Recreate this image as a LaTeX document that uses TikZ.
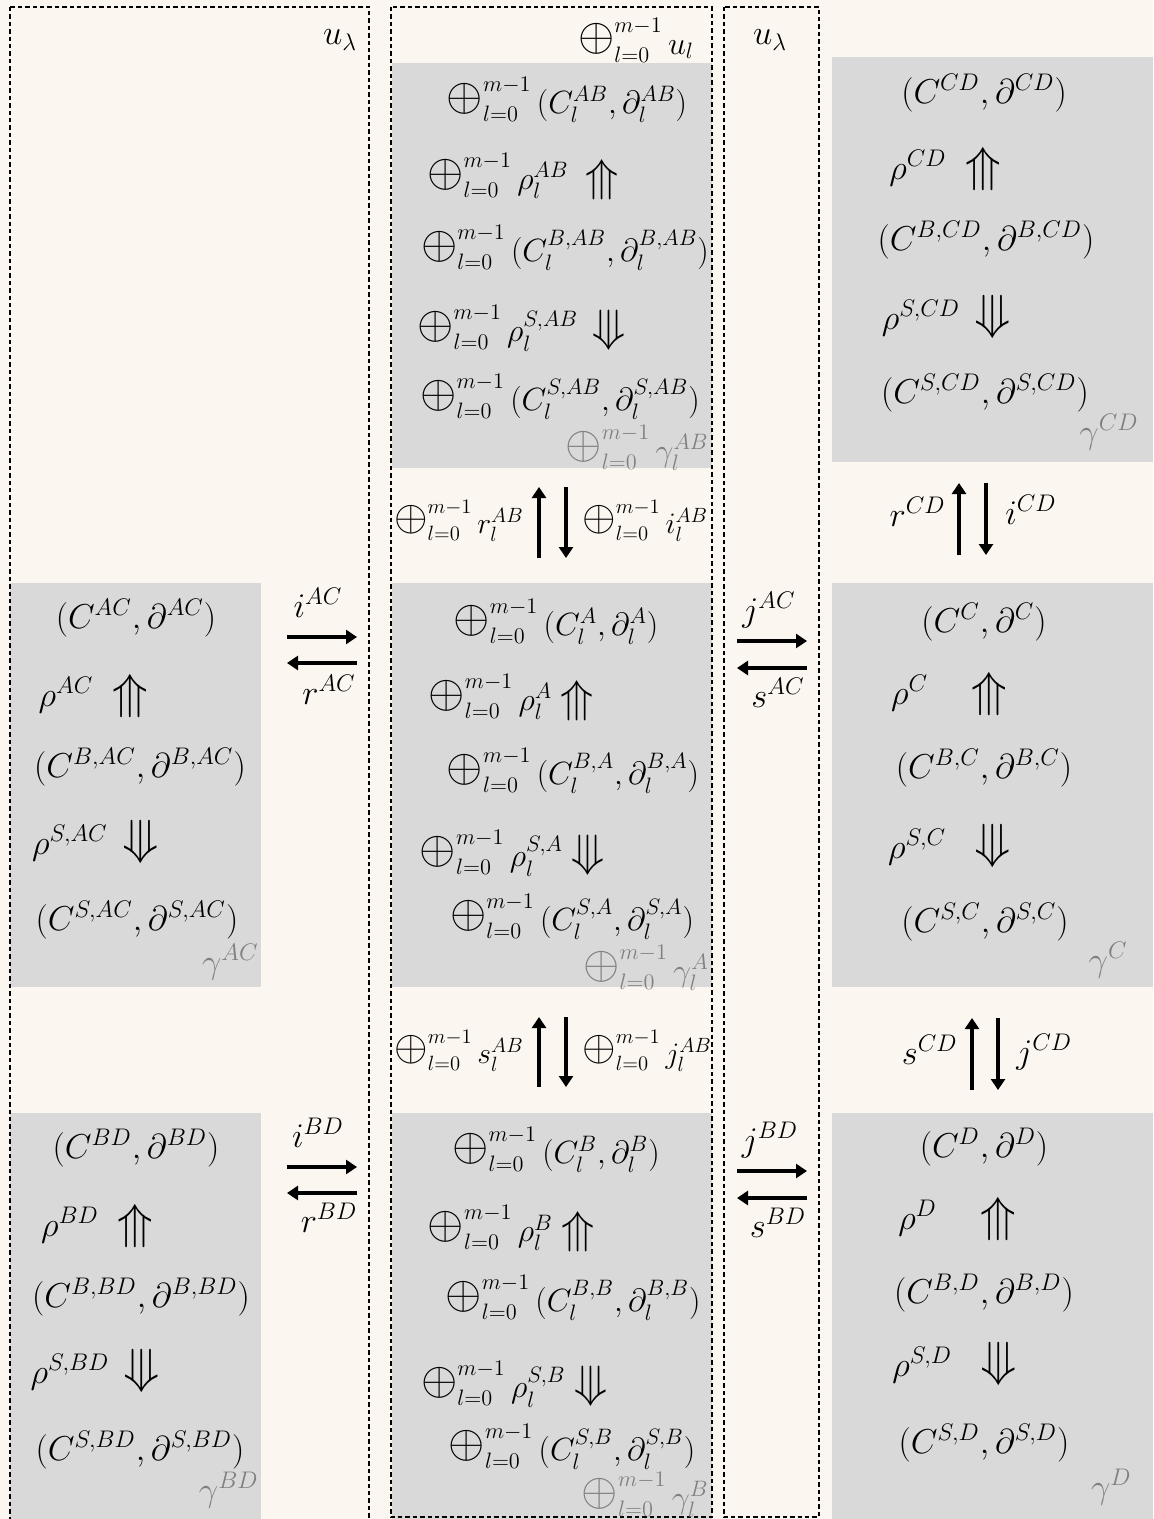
\documentclass[tikz,border=0pt]{standalone}
\usepackage{amssymb}
\usepackage{graphicx}
\usetikzlibrary{arrows.meta}
\definecolor{bgcream}{HTML}{FBF7F0}
\definecolor{boxgray}{HTML}{D9D9D9}
\definecolor{lblgray}{HTML}{808080}
\newcommand\Osum{{\raisebox{0.1em}{\scalebox{1.45}{$\oplus$}}}_{l=0}^{m-1}\,}
\newcommand\Mx[1]{\scalebox{0.93}{$#1$}}
\newcommand\tup{\mathrel{\rotatebox[origin=c]{90}{\scalebox{1.45}[1.3]{$\Rrightarrow$}}}}
\newcommand\tdown{\mathrel{\rotatebox[origin=c]{-90}{\scalebox{1.45}[1.3]{$\Rrightarrow$}}}}
\tikzset{
  lbl/.style={inner sep=0pt, font=\fontsize{17.28}{21}\selectfont},
  glbl/.style={lbl, text=lblgray, anchor=east},
  grayblock/.style={fill=boxgray, draw=none},
  dashbox/.style={draw=black, line width=0.65pt, dash pattern=on 2.2pt off 1.5pt},
  bigarrow/.style={line width=2pt, -{Triangle[length=5.5pt,width=7pt]}},
}
\begin{document}
\begin{tikzpicture}[x=0.5pt,y=-0.5pt]
\useasboundingbox (0,0) rectangle (1153,1519);
\fill[bgcream] (0,0) rectangle (1153,1519);
% gray blocks
\fill[grayblock] (10,583) rectangle (261,987);
\fill[grayblock] (10,1113) rectangle (261,1519);
\fill[grayblock] (392,63) rectangle (712,468);
\fill[grayblock] (392,583) rectangle (712,987);
\fill[grayblock] (392,1113) rectangle (712,1519);
\fill[grayblock] (832,57) rectangle (1153,462);
\fill[grayblock] (832,583) rectangle (1153,987);
\fill[grayblock] (832,1113) rectangle (1153,1519);
% dashed frames
\begin{scope}
\clip (0,0) rectangle (1153,1519);
\draw[dashbox] (10,7) rectangle (369,1530);
\end{scope}
\draw[dashbox] (391,7) rectangle (712,1517);
\draw[dashbox] (724,7) rectangle (819,1517);
% top labels
\node[lbl] (ulamL) at (340,40) {$u_\lambda$};
\node[lbl] (ulsum) at (636,40) {\Mx{\Osum u_l}};
\node[lbl] (ulamR) at (770,40) {$u_\lambda$};
% AB block
\node[lbl] (ab1) at (567,100) {\Mx{\Osum (C_l^{AB},\partial_l^{AB})}};
\node[lbl] (ab2) at (523,178) {\Mx{\Osum \rho_l^{AB}\;\tup}};
\node[lbl] (ab3) at (565,248) {\Mx{\Osum (C_l^{B,AB},\partial_l^{B,AB})}};
\node[lbl] (ab4) at (521,330) {\Mx{\Osum \rho_l^{S,AB}\,\tdown}};
\node[lbl] (ab5) at (560,397) {\Mx{\Osum (C_l^{S,AB},\partial_l^{S,AB})}};
\node[glbl] (gab) at (709,448) {\Mx{\Osum \gamma_l^{AB}}};
% A block
\node[lbl] (a1) at (556,622) {\Mx{\Osum (C_l^{A},\partial_l^{A})}};
\node[lbl] (a2) at (511,699) {\Mx{\Osum \rho_l^{A}\tup}};
\node[lbl] (a3) at (573,771) {\Mx{\Osum (C_l^{B,A},\partial_l^{B,A})}};
\node[lbl] (a4) at (512,855) {\Mx{\Osum \rho_l^{S,A}\tdown}};
\node[lbl] (a5) at (572,917) {\Mx{\Osum (C_l^{S,A},\partial_l^{S,A})}};
\node[glbl] (ga) at (709,968) {\Mx{\Osum \gamma_l^{A}}};
% B block
\node[lbl] (b1) at (556,1150) {\Mx{\Osum (C_l^{B},\partial_l^{B})}};
\node[lbl] (b2) at (511,1230) {\Mx{\Osum \rho_l^{B}\tup}};
\node[lbl] (b3) at (573,1298) {\Mx{\Osum (C_l^{B,B},\partial_l^{B,B})}};
\node[lbl] (b4) at (514,1386) {\Mx{\Osum \rho_l^{S,B}\tdown}};
\node[lbl] (b5) at (572,1447) {\Mx{\Osum (C_l^{S,B},\partial_l^{S,B})}};
\node[glbl] (gb) at (709,1495) {\Mx{\Osum \gamma_l^{B}}};
% AC block
\node[lbl] (ac1) at (136,618) {$(C^{AC},\partial^{AC})$};
\node[lbl] (ac2) at (93,695) {$\rho^{AC}\;\tup$};
\node[lbl] (ac3) at (140,767) {$(C^{B,AC},\partial^{B,AC})$};
\node[lbl] (ac4) at (95,843) {$\rho^{S,AC}\,\tdown$};
\node[lbl] (ac5) at (137,920) {$(C^{S,AC},\partial^{S,AC})$};
\node[glbl] (gac) at (259,962) {$\gamma^{AC}$};
% BD block
\node[lbl] (bd1) at (136,1148) {$(C^{BD},\partial^{BD})$};
\node[lbl] (bd2) at (97,1225) {$\rho^{BD}\;\tup$};
\node[lbl] (bd3) at (141,1297) {$(C^{B,BD},\partial^{B,BD})$};
\node[lbl] (bd4) at (95,1372) {$\rho^{S,BD}\,\tdown$};
\node[lbl] (bd5) at (140,1450) {$(C^{S,BD},\partial^{S,BD})$};
\node[glbl] (gbd) at (259,1490) {$\gamma^{BD}$};
% CD block
\node[lbl] (cd1) at (984,93) {$(C^{CD},\partial^{CD})$};
\node[lbl] (cd2) at (945,168) {$\rho^{CD}\;\tup$};
\node[lbl] (cd3) at (986,240) {$(C^{B,CD},\partial^{B,CD})$};
\node[lbl] (cd4) at (946,318) {$\rho^{S,CD}\,\tdown$};
\node[lbl] (cd5) at (985,393) {$(C^{S,CD},\partial^{S,CD})$};
\node[glbl] (gcd) at (1139,432) {$\gamma^{CD}$};
% C block
\node[lbl] (c1) at (984,622) {$(C^{C},\partial^{C})$};
\node[lbl] (c2) at (949,693) {$\rho^{C}\quad\tup$};
\node[lbl] (c3) at (984,768) {$(C^{B,C},\partial^{B,C})$};
\node[lbl] (c4) at (949,847) {$\rho^{S,C}\;\;\tdown$};
\node[lbl] (c5) at (985,922) {$(C^{S,C},\partial^{S,C})$};
\node[glbl] (gc) at (1128,960) {$\gamma^{C}$};
% D block
\node[lbl] (d1) at (984,1147) {$(C^{D},\partial^{D})$};
\node[lbl] (d2) at (957,1218) {$\rho^{D}\quad\tup$};
\node[lbl] (d3) at (984,1293) {$(C^{B,D},\partial^{B,D})$};
\node[lbl] (d4) at (954,1365) {$\rho^{S,D}\;\;\tdown$};
\node[lbl] (d5) at (984,1443) {$(C^{S,D},\partial^{S,D})$};
\node[glbl] (gd) at (1132,1487) {$\gamma^{D}$};
% horizontal arrows left
\coordinate (acL1) at (287,637); \coordinate (acR1) at (357,637);
\coordinate (acL2) at (287,663); \coordinate (acR2) at (357,663);
\draw[bigarrow] (acL1) -- (acR1);
\draw[bigarrow] (acR2) -- (acL2);
\node[lbl] (iAC) at (318,603) {$i^{AC}$};
\node[lbl] (rAC) at (329,690) {$r^{AC}$};
\coordinate (bdL1) at (287,1167); \coordinate (bdR1) at (357,1167);
\coordinate (bdL2) at (287,1193); \coordinate (bdR2) at (357,1193);
\draw[bigarrow] (bdL1) -- (bdR1);
\draw[bigarrow] (bdR2) -- (bdL2);
\node[lbl] (iBD) at (318,1133) {$i^{BD}$};
\node[lbl] (rBD) at (329,1218) {$r^{BD}$};
% horizontal arrows right
\coordinate (jacL1) at (737,641); \coordinate (jacR1) at (807,641);
\coordinate (jacL2) at (737,668); \coordinate (jacR2) at (807,668);
\draw[bigarrow] (jacL1) -- (jacR1);
\draw[bigarrow] (jacR2) -- (jacL2);
\node[lbl] (jAC) at (769,610) {$j^{AC}$};
\node[lbl] (sAC) at (778,693) {$s^{AC}$};
\coordinate (jbdL1) at (737,1171); \coordinate (jbdR1) at (807,1171);
\coordinate (jbdL2) at (737,1198); \coordinate (jbdR2) at (807,1198);
\draw[bigarrow] (jbdL1) -- (jbdR1);
\draw[bigarrow] (jbdR2) -- (jbdL2);
\node[lbl] (jBD) at (770,1140) {$j^{BD}$};
\node[lbl] (sBD) at (778,1223) {$s^{BD}$};
% vertical arrows middle
\coordinate (m1b) at (539,558); \coordinate (m1t) at (539,487);
\coordinate (m2t) at (566,487); \coordinate (m2b) at (566,558);
\draw[bigarrow] (m1b) -- (m1t);
\draw[bigarrow] (m2t) -- (m2b);
\node[lbl, anchor=east] (rAB) at (524,521) {\scalebox{0.86}{$\Osum r_l^{AB}$}};
\node[lbl, anchor=west] (iAB) at (582,521) {\scalebox{0.86}{$\Osum i_l^{AB}$}};
\coordinate (m3b) at (539,1087); \coordinate (m3t) at (539,1017);
\coordinate (m4t) at (566,1017); \coordinate (m4b) at (566,1087);
\draw[bigarrow] (m3b) -- (m3t);
\draw[bigarrow] (m4t) -- (m4b);
\node[lbl, anchor=east] (sAB) at (524,1051) {\scalebox{0.86}{$\Osum s_l^{AB}$}};
\node[lbl, anchor=west] (jAB) at (582,1051) {\scalebox{0.86}{$\Osum j_l^{AB}$}};
% vertical arrows right
\coordinate (r1b) at (959,555); \coordinate (r1t) at (959,483);
\coordinate (r2t) at (986,483); \coordinate (r2b) at (986,555);
\draw[bigarrow] (r1b) -- (r1t);
\draw[bigarrow] (r2t) -- (r2b);
\node[lbl, anchor=east] (rCD) at (946,512) {$r^{CD}$};
\node[lbl, anchor=west] (iCD) at (1005,510) {$i^{CD}$};
\coordinate (r3b) at (972,1090); \coordinate (r3t) at (972,1018);
\coordinate (r4t) at (998,1018); \coordinate (r4b) at (998,1090);
\draw[bigarrow] (r3b) -- (r3t);
\draw[bigarrow] (r4t) -- (r4b);
\node[lbl, anchor=east] (sCD) at (958,1050) {$s^{CD}$};
\node[lbl, anchor=west] (jCD) at (1016,1052) {$j^{CD}$};
\end{tikzpicture}
\end{document}
